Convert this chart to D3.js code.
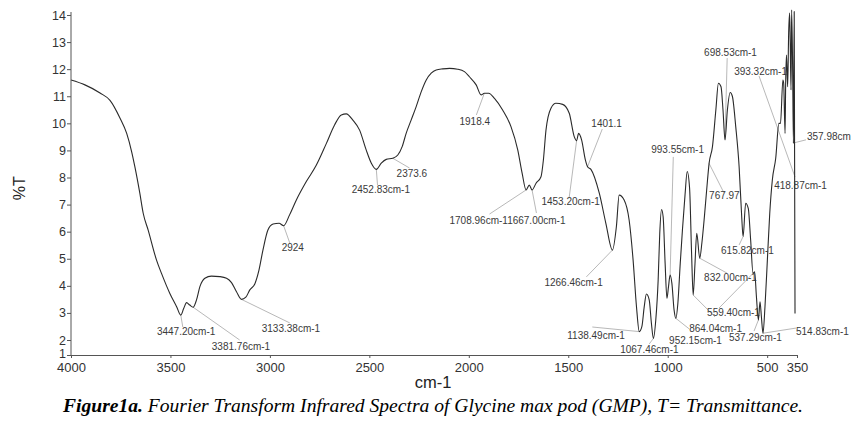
<!DOCTYPE html>
<html>
<head>
<meta charset="utf-8">
<script src="https://cdn.jsdelivr.net/npm/d3@7/dist/d3.min.js"></script>
<style>
  html, body { margin: 0; padding: 0; background: #fff; }
  svg { display: block; }
</style>
</head>
<body>
<svg id="chart" width="862" height="434"></svg>
<script>
// ---------- DATA ----------
const xTicks = [4000, 3500, 3000, 2500, 2000, 1500, 1000, 500, 350];
const yTicks = [1, 2, 3, 4, 5, 6, 7, 8, 9, 10, 11, 12, 13, 14];

const wavenumber = [
  4000, 3930, 3854, 3804, 3754, 3720, 3695, 3679, 3654, 3637, 3612, 3570, 3545, 3503, 3469,
  3448, 3433, 3419, 3403, 3386, 3369, 3352, 3327, 3294, 3252, 3218, 3193, 3168, 3143, 3121,
  3101, 3076, 3055, 3035, 3010, 2984, 2954, 2931, 2901, 2867, 2817, 2767, 2716, 2675, 2641,
  2616, 2583, 2549, 2516, 2490, 2465, 2440, 2415, 2382, 2357, 2335, 2315, 2290, 2265, 2239,
  2214, 2189, 2164, 2131, 2097, 2056, 2022, 1997, 1963, 1938, 1922, 1900, 1871, 1830, 1788,
  1754, 1732, 1712, 1696, 1682, 1662, 1637, 1625, 1612, 1587, 1562, 1528, 1495, 1470, 1458,
  1448, 1433, 1414, 1403, 1386, 1344, 1311, 1278, 1258, 1244, 1219, 1194, 1174, 1157, 1143,
  1130, 1118, 1107, 1093, 1082, 1072, 1060, 1048, 1040, 1031, 1023, 1013, 1004, 996, 988,
  979, 968, 959, 949, 937, 926, 913, 902, 890, 880, 872, 863, 854, 839, 828,
  815, 800, 792, 775, 758, 745, 732, 722, 712, 700, 686, 675, 658, 641, 628,
  621, 608, 595, 583, 571, 563, 554, 544, 536, 529, 521, 511, 499, 487, 474,
  457, 441, 433, 421, 417, 410, 407, 403, 397, 392, 387, 384, 380, 377, 372,
  368, 364, 360
];
const transmittance = [
  11.60, 11.42, 11.12, 10.85, 10.20, 9.63, 8.95, 8.40, 7.42, 6.68, 6.06, 4.95, 4.46, 3.72, 3.23,
  2.92, 3.17, 3.38, 3.29, 3.21, 3.48, 3.97, 4.28, 4.36, 4.34, 4.28, 4.12, 3.78, 3.50, 3.58,
  3.85, 4.07, 4.58, 5.32, 6.06, 6.28, 6.31, 6.22, 6.62, 7.17, 7.85, 8.45, 9.26, 9.94, 10.31,
  10.35, 10.12, 9.75, 9.02, 8.53, 8.30, 8.53, 8.67, 8.71, 8.83, 9.14, 9.63, 10.12, 10.61, 11.17,
  11.60, 11.85, 11.97, 12.01, 12.03, 12.00, 11.91, 11.72, 11.42, 11.05, 11.11, 11.11, 10.92, 10.49, 9.88,
  9.02, 8.16, 7.54, 7.72, 7.54, 7.79, 8.03, 8.65, 9.75, 10.56, 10.74, 10.70, 10.37, 9.51, 9.36,
  9.63, 9.39, 8.65, 8.40, 8.30, 7.42, 6.31, 5.32, 6.19, 7.35, 7.17, 6.43, 4.95, 3.23, 2.31,
  2.49, 3.23, 3.70, 3.48, 2.62, 2.06, 2.74, 4.22, 5.94, 6.82, 6.55, 4.83, 3.54, 3.97, 4.40,
  4.09, 3.11, 2.80, 3.35, 4.83, 6.06, 7.35, 8.22, 7.60, 5.20, 3.66, 4.80, 5.94, 5.02, 5.60,
  6.60, 7.90, 8.52, 9.14, 10.49, 11.48, 11.35, 10.49, 9.39, 10.49, 11.14, 11.00, 9.88, 8.40, 6.55,
  5.82, 7.05, 6.86, 5.69, 4.46, 4.52, 3.60, 2.74, 3.41, 2.86, 2.25, 3.23, 4.95, 6.68, 7.91,
  8.71, 10.00, 10.00, 11.60, 11.48, 9.63, 11.48, 12.52, 11.35, 13.32, 14.07, 12.95, 11.23, 14.19, 12.09,
  9.26, 14.13, 2.98
];

// peak annotations (label text, label position, leader line) in data units
const peakText = [
  "3447.20cm-1", "3381.76cm-1", "3133.38cm-1", "2924", "2452.83cm-1", "2373.6", "1918.4",
  "1708.96cm-11667.00cm-1", "1453.20cm-1", "1401.1", "1266.46cm-1", "993.55cm-1", "767.97",
  "698.53cm-1", "393.32cm-1", "418.87cm-1", "357.98cm", "615.82cm-1", "832.00cm-1", "559.40cm-1",
  "864.04cm-1", "952.15cm-1", "1138.49cm-1", "1067.46cm-1", "537.29cm-1", "514.83cm-1"
];
// label anchor (left edge, vertical centre)
const labelWn = [3568, 3292, 3041, 2941, 2589, 2363, 2047, 2097, 1635, 1384, 1620, 1083, 792,
  817, 666, 465, 300, 732, 817, 802, 892, 993, 1505, 1239, 692, 355];
const labelT = [2.30, 1.60, 2.41, 5.40, 7.54, 8.13, 10.05, 6.43, 7.10, 10.01, 4.14, 9.02, 7.35,
  12.60, 11.93, 7.69, 9.53, 5.32, 4.29, 3.03, 2.44, 2.00, 2.15, 1.40, 2.11, 2.30];
// leader lines: [wn1, T1, wn2, T2]
const leaders = [
  [3448, 2.92, 3438, 2.48], [3386, 3.21, 3152, 2.00], [3143, 3.50, 2900, 2.63],
  [2931, 6.22, 2900, 5.58], [2465, 8.30, 2459, 7.72], [2382, 8.71, 2298, 8.35],
  [1922, 11.11, 1962, 10.31], [1712, 7.54, 1896, 6.65], [1682, 7.54, 1660, 6.69],
  [1458, 9.36, 1495, 7.28], [1403, 8.40, 1329, 9.79], [1278, 5.32, 1409, 4.33],
  [988, 4.40, 972, 8.76], [792, 8.52, 717, 7.43], [712, 9.39, 701, 12.41],
  [541, 11.75, 360, 8.02], [370, 9.27, 305, 9.39], [621, 5.82, 641, 5.51],
  [839, 5.02, 702, 4.47], [563, 4.52, 742, 3.18], [872, 3.66, 762, 2.85],
  [959, 2.80, 892, 2.41], [1143, 2.31, 1379, 2.48], [1072, 2.06, 1093, 1.73],
  [544, 2.74, 566, 2.33], [521, 2.25, 355, 2.44]
];

// ---------- CHART ----------
const svg = d3.select("#chart");

const x = d3.scaleLinear().domain([4000, 350]).range([71, 797]);
const y = d3.scaleLinear().domain([1, 2, 14]).range([355, 340, 15]);

// leader lines
svg.append("g")
  .selectAll("line")
  .data(leaders)
  .join("line")
  .attr("x1", d => x(d[0])).attr("y1", d => y(d[1]))
  .attr("x2", d => x(d[2])).attr("y2", d => y(d[3]))
  .attr("stroke", "#9a9a9a")
  .attr("stroke-width", 0.7);

// spectrum
const pts = wavenumber.map((w, i) => [w, transmittance[i]]);
svg.append("path")
  .datum(pts)
  .attr("fill", "none")
  .attr("stroke", "#2a2a2a")
  .attr("stroke-width", 1.1)
  .attr("stroke-linejoin", "round")
  .attr("d", d3.line().x(d => x(d[0])).y(d => y(d[1])).curve(d3.curveMonotoneX));

// axes
const yAxis = svg.append("g")
  .attr("transform", `translate(${x(4000)},0)`)
  .call(d3.axisLeft(y).tickValues(yTicks).tickSize(4).tickSizeOuter(0).tickPadding(1).tickFormat(d3.format("d")));
const xAxis = svg.append("g")
  .attr("transform", `translate(0,${y(1)})`)
  .call(d3.axisBottom(x).tickValues(xTicks).tickSize(3).tickSizeOuter(0).tickPadding(5).tickFormat(d3.format("d")));

[yAxis, xAxis].forEach(g => {
  g.select(".domain").attr("stroke", "#555").attr("stroke-width", 1);
  g.selectAll(".tick line").attr("stroke", "#555");
  g.selectAll(".tick text")
    .attr("fill", "#333")
    .style("font-family", "Arial, 'Liberation Sans', sans-serif");
});
yAxis.selectAll(".tick text").style("font-size", "12.5px");
xAxis.selectAll(".tick text").style("font-size", "13px");
yAxis.select(".domain").attr("d", `M0,${y(14) - 3}V${y(1)}`);
yAxis.selectAll(".tick").filter(d => d === 1).select("text").attr("dy", "0.2em");

// peak labels
svg.append("g")
  .selectAll("text")
  .data(peakText)
  .join("text")
  .attr("x", (d, i) => x(labelWn[i]))
  .attr("y", (d, i) => y(labelT[i]))
  .attr("dominant-baseline", "central")
  .attr("fill", "#3a3a3a")
  .style("font-family", "Arial, 'Liberation Sans', sans-serif")
  .style("font-size", "10px")
  .text(d => d);

// axis titles
svg.append("text")
  .attr("transform", `translate(25,${y(7.6)}) rotate(-90)`)
  .attr("text-anchor", "middle")
  .attr("fill", "#222")
  .style("font-family", "Arial, 'Liberation Sans', sans-serif")
  .style("font-size", "16px")
  .text("%T");

svg.append("text")
  .attr("x", 433).attr("y", 388)
  .attr("text-anchor", "middle")
  .attr("fill", "#222")
  .style("font-family", "Arial, 'Liberation Sans', sans-serif")
  .style("font-size", "16.5px")
  .text("cm-1");

// caption
const cap = svg.append("text")
  .attr("x", 63).attr("y", 412)
  .attr("fill", "#000")
  .attr("textLength", 740)
  .attr("lengthAdjust", "spacingAndGlyphs")
  .style("font-family", "'Liberation Serif', 'Times New Roman', serif")
  .style("font-style", "italic")
  .style("font-size", "18px");
cap.append("tspan").style("font-weight", "bold").text("Figure1a.");
cap.append("tspan").text(" Fourier Transform Infrared Spectra of Glycine max pod (GMP), T= Transmittance.");
</script>
</body>
</html>
